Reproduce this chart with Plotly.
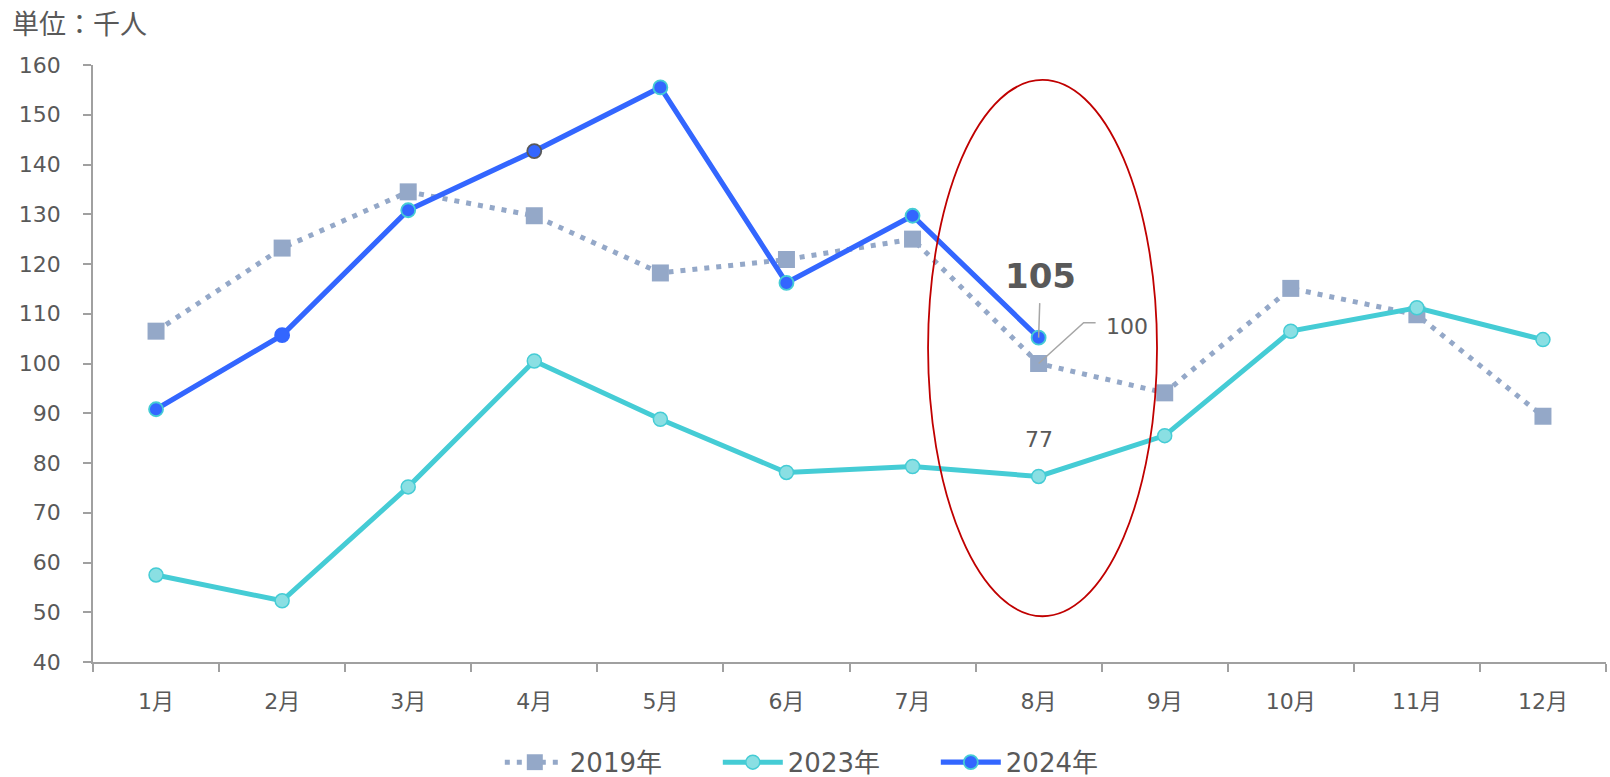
import plotly.graph_objects as go

months = ["1月", "2月", "3月", "4月", "5月", "6月", "7月", "8月", "9月", "10月", "11月", "12月"]
v2019 = [106.5, 123.2, 134.5, 129.7, 118.2, 120.9, 125.0, 100.0, 94.1, 115.1, 109.8, 89.4]
v2023 = [57.5, 52.3, 75.2, 100.5, 88.8, 78.1, 79.3, 77.3, 85.5, 106.5, 111.2, 104.8]
v2024 = [90.8, 105.7, 130.8, 142.7, 155.5, 116.2, 129.7, 105.2]
names = ["2019年", "2023年", "2024年"]

FONT = "DejaVu Sans, Noto Sans CJK JP, sans-serif"
TXT = "#595959"
AX = "#A0A0A0"
C19 = "#94A8C8"
C23 = "#45CCD5"
C23F = "#8ADFE3"
C24 = "#3366FF"

fig = go.Figure()
fig.add_trace(go.Scatter(
    x=months, y=v2019, name=names[0], mode="lines+markers",
    line=dict(color=C19, width=5, dash="5px,7px"),
    marker=dict(symbol="square", size=17, color=C19, line=dict(width=0)),
))
fig.add_trace(go.Scatter(
    x=months, y=v2023, name=names[1], mode="lines+markers",
    line=dict(color=C23, width=5),
    marker=dict(symbol="circle", size=14, color=C23F, line=dict(color=C23, width=1.5)),
))
border24 = [C23, C24, C23, "#595959", C23, C23, C23, C23]
fig.add_trace(go.Scatter(
    x=months[:len(v2024)], y=v2024, name=names[2], mode="lines+markers",
    line=dict(color=C24, width=5.2),
    marker=dict(symbol="circle", size=14, color=C24, line=dict(color=border24, width=1.8)),
))

idx = 7
# highlight ellipse around 8月
fig.add_shape(type="circle", xref="x", yref="y",
              x0=idx - 0.877, x1=idx + 0.939, y0=49.2, y1=157.0,
              line=dict(color="#C00000", width=1.8))
# leader line for 2019 label
px, py = idx, v2019[idx]
fig.add_shape(type="path", xref="x", yref="y",
              path=f"M {px},{py} L {px + 0.357},{py + 8.2} L {px + 0.452},{py + 8.2}",
              line=dict(color="#A6A6A6", width=1.5))

fig.add_annotation(x=months[idx], y=v2024[idx], text="<b>105</b>", showarrow=True,
                   arrowhead=0, arrowwidth=1.5, arrowcolor="#A6A6A6", ax=2, ay=-62,
                   standoff=0, startstandoff=6,
                   font=dict(family=FONT, size=34, color=TXT))
fig.add_annotation(x=months[idx], y=v2019[idx], text="100", showarrow=False,
                   xshift=88, yshift=37, font=dict(family=FONT, size=22, color=TXT))
fig.add_annotation(x=months[idx], y=v2023[idx], text="77", showarrow=False,
                   xshift=0, yshift=37, font=dict(family=FONT, size=22, color=TXT))
fig.add_annotation(xref="paper", yref="paper", x=-0.055, y=1.068, xanchor="left", yanchor="middle",
                   text="単位：千人", showarrow=False, font=dict(family=FONT, size=27, color=TXT))

fig.update_layout(
    width=1610, height=777, autosize=False,
    margin=dict(l=93, r=4, t=65, b=115, autoexpand=False),
    paper_bgcolor="white", plot_bgcolor="white",
    font=dict(family=FONT, size=22, color=TXT),
    showlegend=True,
    legend=dict(orientation="h", x=0.485, xanchor="center",
                yref="container", y=0.019, yanchor="middle",
                font=dict(family=FONT, size=26, color=TXT), itemwidth=60,
                entrywidth=143, traceorder="normal"),
    xaxis=dict(type="category", range=[-0.5, 11.5], showgrid=False, zeroline=False,
               automargin=False,
               showline=True, linecolor=AX, linewidth=1.5, ticks="outside", tickson="boundaries",
               ticklen=8, tickcolor=AX, tickwidth=1.5, ticklabelstandoff=19,
               tickfont=dict(family=FONT, size=22, color=TXT)),
    yaxis=dict(range=[40, 160], dtick=10, showgrid=False, zeroline=False,
               automargin=False,
               showline=True, linecolor=AX, linewidth=1.5, ticks="outside",
               ticklen=8, tickcolor=AX, tickwidth=1.5, ticklabelstandoff=18,
               tickfont=dict(family=FONT, size=22, color=TXT)),
)

fig.write_html("out.html", config={"displayModeBar": False},
               post_script="document.body.style.margin='0px';document.body.style.overflow='hidden';")
